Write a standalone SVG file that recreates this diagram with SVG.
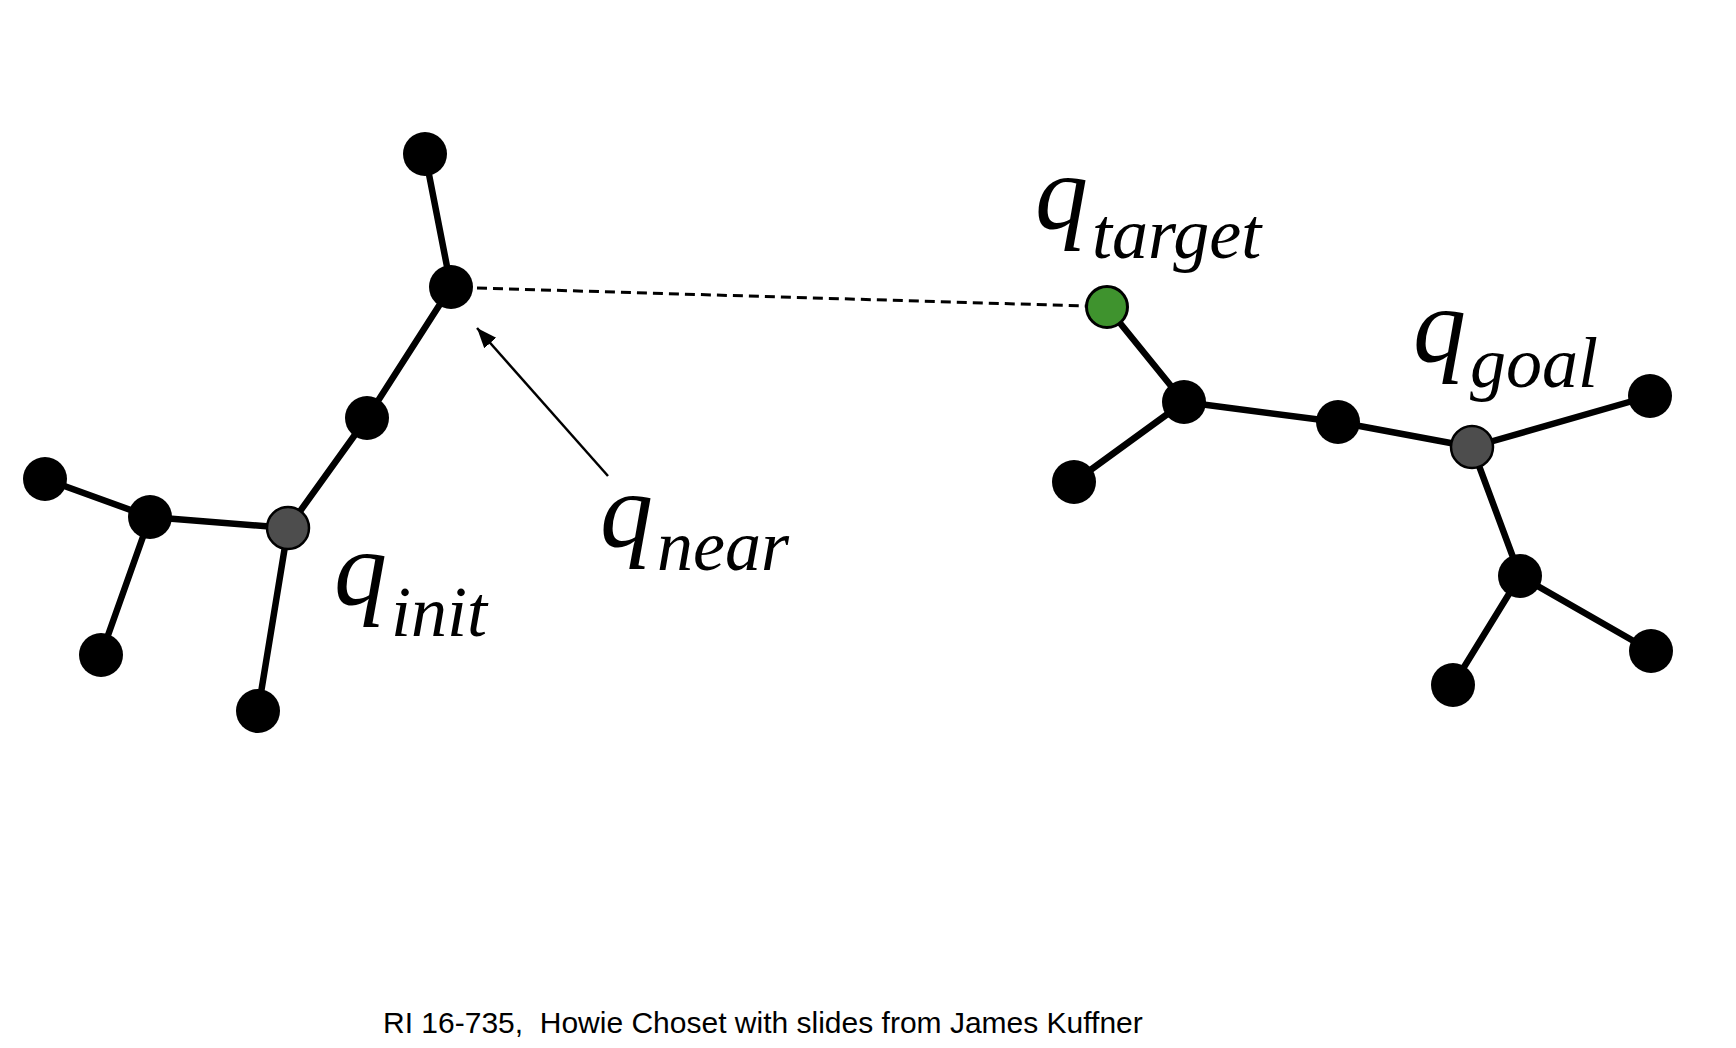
<svg xmlns="http://www.w3.org/2000/svg" width="1736" height="1048" viewBox="0 0 1736 1048">
<style>
.edge{stroke:#000;stroke-width:6.5;fill:none;stroke-linecap:round}
.node{fill:#000}
.init{fill:#4d4d4d;stroke:#000;stroke-width:2.5}
.tgt{fill:#3f932e;stroke:#000;stroke-width:3}
</style>
<defs>
<marker id="ah" viewBox="0 0 10 10" refX="10" refY="5" markerWidth="8" markerHeight="8" orient="auto" markerUnits="strokeWidth">
<path d="M0,1 L10,5 L0,9 Z" fill="#000"/>
</marker>
</defs>
<rect width="1736" height="1048" fill="#fff"/>
<g id="connectors">
<line class="edge" x1="425" y1="154" x2="451" y2="287"/>
<line class="edge" x1="451" y1="287" x2="367" y2="418"/>
<line class="edge" x1="367" y1="418" x2="288" y2="528"/>
<line class="edge" x1="288" y1="528" x2="150" y2="517"/>
<line class="edge" x1="150" y1="517" x2="45" y2="479"/>
<line class="edge" x1="150" y1="517" x2="101" y2="655"/>
<line class="edge" x1="288" y1="528" x2="258" y2="711"/>
<line class="edge" x1="1107" y1="307" x2="1184" y2="402"/>
<line class="edge" x1="1184" y1="402" x2="1074" y2="482"/>
<line class="edge" x1="1184" y1="402" x2="1338" y2="422"/>
<line class="edge" x1="1338" y1="422" x2="1472" y2="447"/>
<line class="edge" x1="1472" y1="447" x2="1650" y2="396"/>
<line class="edge" x1="1472" y1="447" x2="1520" y2="576"/>
<line class="edge" x1="1520" y1="576" x2="1651" y2="651"/>
<line class="edge" x1="1520" y1="576" x2="1453" y2="685"/>
<line x1="477" y1="288" x2="1086" y2="306" stroke="#000" stroke-width="3" stroke-dasharray="10,6"/>
<line x1="608" y1="476" x2="477" y2="328" stroke="#000" stroke-width="2.5" marker-end="url(#ah)"/>
</g>
<g id="n-top"><circle class="node" cx="425" cy="154" r="22"/></g>
<g id="n-near"><circle class="node" cx="451" cy="287" r="22"/></g>
<g id="n-mid"><circle class="node" cx="367" cy="418" r="22"/></g>
<g id="n-init"><circle class="init" cx="288" cy="528" r="21"/></g>
<g id="n-left"><circle class="node" cx="150" cy="517" r="22"/></g>
<g id="n-farleft"><circle class="node" cx="45" cy="479" r="22"/></g>
<g id="n-lowerleft"><circle class="node" cx="101" cy="655" r="22"/></g>
<g id="n-bottom"><circle class="node" cx="258" cy="711" r="22"/></g>
<g id="n-target"><circle class="tgt" cx="1107" cy="307" r="20.5"/></g>
<g id="n-r1"><circle class="node" cx="1184" cy="402" r="22"/></g>
<g id="n-r1low"><circle class="node" cx="1074" cy="482" r="22"/></g>
<g id="n-r2"><circle class="node" cx="1338" cy="422" r="22"/></g>
<g id="n-goal"><circle class="init" cx="1472" cy="447" r="21"/></g>
<g id="n-rright"><circle class="node" cx="1650" cy="396" r="22"/></g>
<g id="n-r3"><circle class="node" cx="1520" cy="576" r="22"/></g>
<g id="n-r3right"><circle class="node" cx="1651" cy="651" r="22"/></g>
<g id="n-r3bottom"><circle class="node" cx="1453" cy="685" r="22"/></g>
<g id="labels" font-family="Liberation Serif, serif" font-style="italic" fill="#000">
<text x="334" y="604" font-size="106">q<tspan font-size="72" dx="4" dy="32">init</tspan></text>
<text x="600" y="546" font-size="106">q<tspan font-size="72" dx="4" dy="24">near</tspan></text>
<text x="1035" y="228" font-size="106">q<tspan font-size="72" dx="4" dy="30">target</tspan></text>
<text x="1413" y="361" font-size="106">q<tspan font-size="72" dx="4" dy="26">goal</tspan></text>
</g>
<text x="383" y="1033" font-family="Liberation Sans, Arial, sans-serif" font-size="30" fill="#000" xml:space="preserve">RI 16-735,  Howie Choset with slides from James Kuffner</text>
</svg>
